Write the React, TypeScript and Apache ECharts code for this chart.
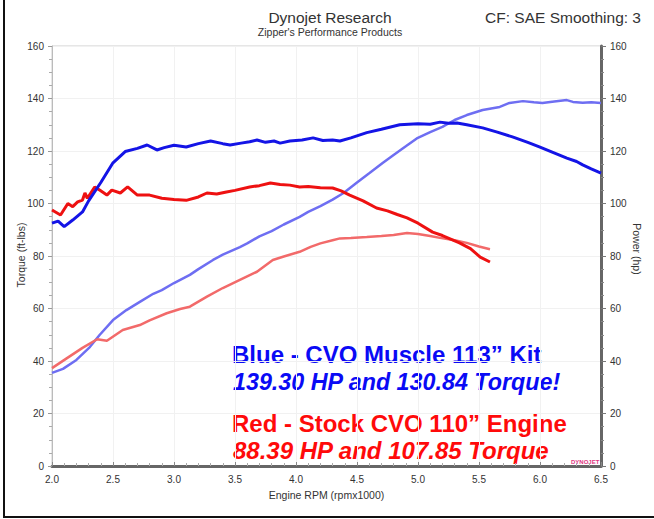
import React, { useEffect, useRef } from "react";
import * as echarts from "echarts";

// [rpm x1000, ft-lbs]
const blueTorque: number[][] = [
  [2.0, 92.5], [2.05, 93.3], [2.1, 91.2], [2.17, 93.7], [2.25, 96.8], [2.3, 101], [2.4, 108],
  [2.5, 115.5], [2.6, 119.8], [2.7, 121], [2.78, 122.3], [2.86, 120.4], [2.92, 121.3], [3.0, 122.2],
  [3.1, 121.5], [3.2, 122.8], [3.3, 123.8], [3.4, 122.8], [3.46, 122.3], [3.55, 123], [3.62, 123.5],
  [3.68, 124.2], [3.75, 123.3], [3.82, 123.8], [3.87, 123], [3.95, 123.8], [4.05, 124.2], [4.14, 125],
  [4.22, 124], [4.3, 124.2], [4.36, 123.8], [4.45, 125], [4.58, 127], [4.7, 128.3], [4.85, 130],
  [5.0, 130.4], [5.1, 130.2], [5.18, 131], [5.25, 130.6], [5.32, 130.7], [5.4, 130], [5.53, 128.8],
  [5.65, 127.2], [5.78, 125.3], [5.9, 123.3], [6.0, 121.5], [6.1, 119.6], [6.22, 117.3], [6.3, 116],
  [6.35, 114.7], [6.42, 113.2], [6.5, 111.6],
];
// [rpm x1000, hp]
const bluePower: number[][] = [
  [2.0, 35.5], [2.09, 37], [2.2, 40.4], [2.31, 45.3], [2.39, 49.9], [2.5, 55.6], [2.61, 59.4],
  [2.72, 62.5], [2.83, 65.6], [2.9, 67], [3.0, 69.7], [3.13, 72.8], [3.2, 75], [3.32, 78.5],
  [3.4, 80.5], [3.54, 83.4], [3.6, 84.8], [3.7, 87.5], [3.8, 89.5], [3.9, 92], [4.03, 94.9],
  [4.1, 96.8], [4.2, 99], [4.3, 101.5], [4.39, 104], [4.5, 108], [4.6, 111.5], [4.71, 115.4],
  [4.8, 118.5], [4.9, 121.8], [4.99, 124.8], [5.1, 127.2], [5.2, 129.2], [5.3, 131.8], [5.4, 133.7],
  [5.53, 135.6], [5.6, 136.2], [5.67, 136.8], [5.75, 138.3], [5.86, 139], [5.95, 138.6], [6.02, 138.3],
  [6.1, 138.8], [6.22, 139.4], [6.27, 138.7], [6.35, 138.4], [6.42, 138.6], [6.5, 138.3],
];
const redTorque: number[][] = [
  [2.0, 97.5], [2.07, 95.6], [2.13, 100], [2.17, 98.8], [2.21, 100.6], [2.25, 101.3], [2.27, 104],
  [2.29, 102], [2.35, 106.3], [2.39, 105.1], [2.45, 103.2], [2.49, 105.1], [2.56, 104], [2.62, 106.3],
  [2.7, 103.2], [2.8, 103.2], [2.9, 102], [3.0, 101.5], [3.1, 101.2], [3.2, 102.5], [3.27, 104],
  [3.35, 103.6], [3.43, 104.4], [3.5, 105], [3.62, 106.3], [3.7, 106.8], [3.79, 107.8], [3.87, 107.2],
  [3.95, 107], [4.03, 106.3], [4.1, 106.5], [4.2, 106], [4.3, 105.9], [4.37, 104.8], [4.44, 103.2],
  [4.55, 101], [4.66, 98.3], [4.75, 97.2], [4.83, 95.8], [4.91, 94.5], [5.0, 92.5], [5.12, 89.1],
  [5.2, 87.8], [5.34, 85], [5.43, 82.8], [5.51, 79.6], [5.59, 77.7],
];
const redPower: number[][] = [
  [2.0, 37.3], [2.12, 41], [2.25, 45], [2.37, 48.3], [2.45, 47.7], [2.58, 51.8], [2.72, 53.7],
  [2.8, 55.5], [2.94, 58.2], [3.05, 59.8], [3.13, 60.7], [3.27, 64.5], [3.4, 67.8], [3.54, 70.9],
  [3.68, 74], [3.81, 78.5], [3.9, 79.8], [4.03, 81.6], [4.12, 83.5], [4.2, 84.8], [4.3, 86],
  [4.36, 86.7], [4.45, 86.9], [4.58, 87.2], [4.7, 87.6], [4.8, 88], [4.91, 88.8], [5.0, 88.4],
  [5.1, 87.6], [5.18, 86.9], [5.3, 86], [5.4, 85], [5.5, 83.6], [5.59, 82.6],
];

const xTicks = { min: 2, max: 6.5, step: 0.5 };
const yTicks = { min: 0, max: 160, step: 20 };

const titleMain = "Dynojet Research";
const titleSub = "Zipper's Performance Products";
const titleRight = "CF: SAE Smoothing: 3";
const xName = "Engine RPM (rpmx1000)";
const yLeftName = "Torque (ft-lbs)";
const yRightName = "Power (hp)";
const noteLines = [
  "Blue - CVO Muscle 113” Kit",
  "139.30 HP and 130.84 Torque!",
  "Red - Stock CVO 110” Engine",
  "88.39 HP and 107.85 Torque",
];

const FONT = "Liberation Sans";

export default function App() {
  const ref = useRef<HTMLDivElement>(null);
  useEffect(() => {
    if (!ref.current) return;
    const chart = echarts.init(ref.current, undefined, { renderer: "svg" });
    const axisLabelStyle = { color: "#333", fontSize: 10, fontFamily: FONT };
    const nameStyle = { color: "#333", fontSize: 10.5, fontFamily: FONT };
    chart.setOption({
      animation: false,
      backgroundColor: "#ffffff",
      grid: {
        left: 52, right: 53, top: 46, bottom: 53,
        outerBoundsMode: "none",
        containLabel: false,
        show: true, borderColor: "#cccccc", borderWidth: 1,
      },
      xAxis: {
        type: "value",
        min: xTicks.min, max: xTicks.max, interval: xTicks.step,
        axisLine: { show: true, lineStyle: { color: "#666", width: 3 } },
        axisTick: { show: true, inside: true, length: 4, lineStyle: { color: "#888" } },
        minorTick: { show: true, splitNumber: 5, length: 3, lineStyle: { color: "#aaa" } },
        splitLine: { show: true, lineStyle: { color: "#f1f1f1" } },
        axisLabel: { ...axisLabelStyle, margin: 8, formatter: (v: number) => v.toFixed(1) },
        name: xName,
        nameLocation: "middle",
        nameGap: 23,
        nameTextStyle: nameStyle,
      },
      yAxis: [
        {
          type: "value", position: "left",
          min: yTicks.min, max: yTicks.max, interval: yTicks.step,
          axisLine: { show: true, lineStyle: { color: "#bbb", width: 1 } },
          axisTick: { show: true, length: 4, lineStyle: { color: "#999" } },
          minorTick: { show: true, splitNumber: 4, length: 3, lineStyle: { color: "#aaa" } },
          splitLine: { show: true, lineStyle: { color: "#f1f1f1" } },
          axisLabel: { ...axisLabelStyle, margin: 8 },
        },
        {
          type: "value", position: "right",
          min: yTicks.min, max: yTicks.max, interval: yTicks.step,
          axisLine: { show: true, lineStyle: { color: "#666", width: 3 } },
          axisTick: { show: true, length: 5, lineStyle: { color: "#777" } },
          minorTick: { show: true, splitNumber: 4, length: 3, lineStyle: { color: "#888" } },
          splitLine: { show: false },
          axisLabel: { ...axisLabelStyle, margin: 9 },
        },
      ],
      series: [
        {
          type: "line", name: "Blue Power", yAxisIndex: 1, data: bluePower,
          showSymbol: false, lineStyle: { color: "#6e6ef2", width: 2.5 }, z: 2,
        },
        {
          type: "line", name: "Red Power", yAxisIndex: 1, data: redPower,
          showSymbol: false, lineStyle: { color: "#f26a6a", width: 2.5 }, z: 2,
        },
        {
          type: "line", name: "Red Torque", yAxisIndex: 0, data: redTorque,
          showSymbol: false, lineStyle: { color: "#ee1111", width: 3 }, z: 3,
        },
        {
          type: "line", name: "Blue Torque", yAxisIndex: 0, data: blueTorque,
          showSymbol: false, lineStyle: { color: "#1414e6", width: 3 }, z: 3,
        },
      ],
      graphic: [
        {
          type: "text", x: 330, y: 17,
          style: { text: titleMain, fontSize: 15.5, fontFamily: FONT, fill: "#333", align: "center", verticalAlign: "middle" },
        },
        {
          type: "text", x: 330, y: 32,
          style: { text: titleSub, fontSize: 10.5, fontFamily: FONT, fill: "#333", align: "center", verticalAlign: "middle" },
        },
        {
          type: "text", x: 641, y: 17,
          style: { text: titleRight, fontSize: 15.5, fontFamily: FONT, fill: "#333", align: "right", verticalAlign: "middle" },
        },
        {
          type: "text", x: 21, y: 255, rotation: Math.PI / 2,
          style: { text: yLeftName, ...nameStyle, fill: "#333", align: "center", verticalAlign: "middle" },
        },
        {
          type: "text", x: 637, y: 249, rotation: -Math.PI / 2,
          style: { text: yRightName, ...nameStyle, fill: "#333", align: "center", verticalAlign: "middle" },
        },
        {
          type: "text", x: 232, y: 354,
          style: { text: noteLines[0], fontSize: 24, fontWeight: "bold", fontFamily: FONT, fill: "#0a0af5", verticalAlign: "middle" },
        },
        {
          type: "text", x: 233, y: 382,
          style: { text: noteLines[1], fontSize: 23.3, fontWeight: "bold", fontStyle: "italic", fontFamily: FONT, fill: "#0a0af5", verticalAlign: "middle" },
        },
        {
          type: "text", x: 232, y: 423,
          style: { text: noteLines[2], fontSize: 24, fontWeight: "bold", fontFamily: FONT, fill: "#ff0a0a", verticalAlign: "middle" },
        },
        {
          type: "text", x: 233, y: 450,
          style: { text: noteLines[3], fontSize: 24, fontWeight: "bold", fontStyle: "italic", fontFamily: FONT, fill: "#ff0a0a", verticalAlign: "middle" },
        },
        {
          type: "text", x: 571, y: 459,
          style: { text: "DYNOJET", fontSize: 6, fontWeight: "bold", fontFamily: FONT, fill: "#e0357f" },
        },
        {
          type: "line", shape: { x1: 4, y1: 0, x2: 4, y2: 518 },
          style: { stroke: "#111", lineWidth: 2 },
        },
        {
          type: "line", shape: { x1: 3, y1: 517, x2: 654, y2: 517 },
          style: { stroke: "#111", lineWidth: 2 },
        },
      ],
    });
    return () => chart.dispose();
  }, []);
  return (
    <div
      ref={ref}
      style={{ position: "fixed", left: 0, top: 0, width: 654, height: 519, background: "#fff" }}
    />
  );
}
